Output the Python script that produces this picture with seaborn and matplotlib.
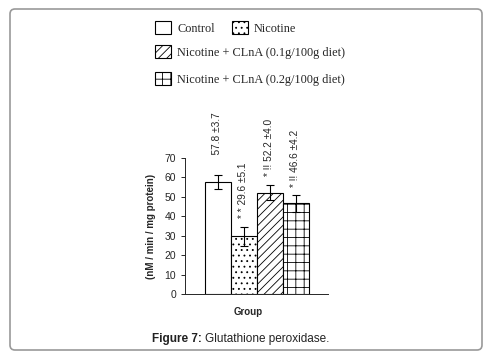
import matplotlib
matplotlib.use("Agg")
import matplotlib.pyplot as plt
import pandas as pd
import seaborn as sns
from matplotlib.patches import FancyBboxPatch, Patch

groups = ["Control", "Nicotine", "Nicotine + CLnA (0.1g/100g diet)", "Nicotine + CLnA (0.2g/100g diet)"]
means = [57.8, 29.6, 52.2, 46.6]
sds = [3.7, 5.1, 4.0, 4.2]
bar_labels = ["    57.8 \u00b13.7", "* * 29.6 \u00b15.1", "* !! 52.2 \u00b14.0", "* !! 46.6 \u00b14.2"]
hatches = ["...", "////", "++"]
hatches = [""] + hatches
yticks = [0, 10, 20, 30, 40, 50, 60, 70]

sns.set_style("ticks")
plt.rcParams["font.family"] = ["Liberation Sans", "DejaVu Sans"]
plt.rcParams["hatch.linewidth"] = 0.6

W, H = 488, 358
fig = plt.figure(figsize=(W / 100, H / 100), dpi=100)

# rounded frame around the whole figure
frame = FancyBboxPatch((10 / 100, (H - 350) / 100), 472 / 100, 341 / 100,
                       boxstyle="round,pad=0,rounding_size=0.05",
                       transform=fig.dpi_scale_trans, facecolor="none",
                       edgecolor="#999999", linewidth=1.2)
fig.add_artist(frame)

ax = fig.add_axes([185 / W, (H - 294) / H, 143 / W, 136 / H])
df = pd.DataFrame({"group": groups, "mean": means})
sns.barplot(data=df, x="group", y="mean", order=groups, width=1,
            color="white", edgecolor="black", linewidth=0.8, ax=ax)

xs = []
for patch, hatch in zip(ax.patches, hatches):
    patch.set_facecolor("white")
    patch.set_hatch(hatch)
    xs.append(patch.get_x() + patch.get_width() / 2)

ax.errorbar(xs, means, yerr=sds, fmt="none", ecolor="black",
            elinewidth=0.8, capsize=3, capthick=0.8)

for x, m, s, lab in zip(xs, means, sds, bar_labels):
    ax.annotate(lab, (x, m + s), xytext=(0, 6), textcoords="offset points",
                rotation=90, ha="center", va="bottom", fontsize=7.3)

ax.set_xlim(-1.25, 4.25)
ax.set_ylim(0, 70)
ax.set_yticks(yticks)
ax.tick_params(axis="y", labelsize=7.5, length=3, width=0.7)
ax.set_xticks([])
ax.set_xlabel("")
ax.set_ylabel("(nM / min / mg protein)", fontsize=7, fontweight="bold", labelpad=6)
for side in ["top", "right"]:
    ax.spines[side].set_visible(False)
for side in ["left", "bottom"]:
    ax.spines[side].set_linewidth(0.7)

fig.text(248 / W, 1 - 312 / H, "Group", fontsize=7, fontweight="bold",
         ha="center", va="center")

# legend in three rows
handles = [Patch(facecolor="white", edgecolor="black", hatch=h, linewidth=0.8) for h in hatches]
leg_kw = dict(frameon=False, borderpad=0, borderaxespad=0, handlelength=1.3,
              handleheight=1.3, handletextpad=0.5,
              prop={"family": "Liberation Serif", "size": 8.8})
fig.legend(handles[:2], groups[:2], loc="upper left", ncol=2, columnspacing=1.4,
           bbox_to_anchor=(155 / W, 1 - 21 / H), **leg_kw)
fig.legend(handles[2:3], groups[2:3], loc="upper left",
           bbox_to_anchor=(155 / W, 1 - 45 / H), **leg_kw)
fig.legend(handles[3:], groups[3:], loc="upper left",
           bbox_to_anchor=(155 / W, 1 - 72 / H), **leg_kw)

# caption
cap1 = fig.text(152 / W, 1 - 339 / H, "Figure 7:", fontsize=8.5, fontweight="bold",
                color="#222222", ha="left", va="center")
renderer = fig.canvas.get_renderer()
bb = cap1.get_window_extent(renderer)
fig.text(bb.x1 / W + 3 / W, 1 - 339 / H, "Glutathione peroxidase.", fontsize=8.5,
         color="#222222", ha="left", va="center")

fig.savefig("out.png", dpi=100)
